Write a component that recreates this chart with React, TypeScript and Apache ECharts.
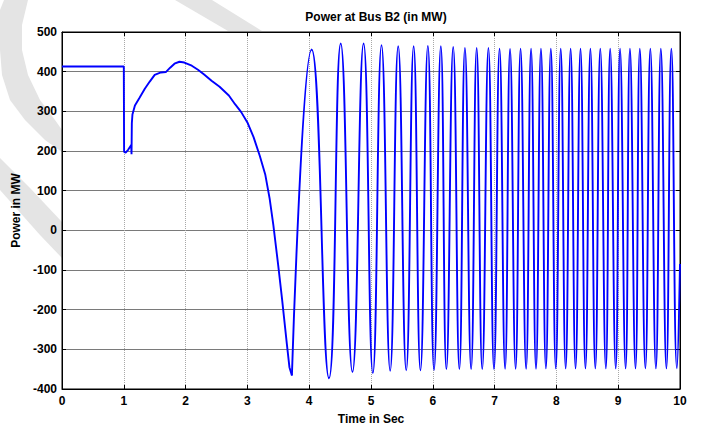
import React, { useEffect, useRef } from "react";
import * as echarts from "echarts";

// Pre-oscillation part (step drop at fault, slow swing)
const timeA = [0, 1.0, 1.005, 1.03, 1.07, 1.12, 1.125, 1.13, 1.14, 1.18, 1.25, 1.34, 1.42, 1.5, 1.6, 1.68, 1.75, 1.82, 1.9, 1.98, 2.1, 2.2, 2.3, 2.42, 2.55, 2.7, 2.8, 2.9, 3.0, 3.1, 3.2, 3.29, 3.36, 3.42, 3.5, 3.56, 3.64, 3.68, 3.72];
const powerA = [413, 413, 198, 196, 203, 215, 192, 270, 292, 315, 333, 357, 375, 392, 398, 399, 410, 420, 425, 423, 415, 405, 393, 377, 362, 340, 318, 298, 272, 235, 188, 140, 80, 13, -90, -172, -289, -345, -366];

// Oscillation part: successive extremes (trough, peak, ...)
const timeB = [
  3.72, 4.04, 4.32, 4.51, 4.70, 4.88, 5.03, 5.17, 5.31, 5.44,
  5.57, 5.69, 5.80, 5.92, 6.02, 6.13, 6.22, 6.33, 6.43, 6.52,
  6.62, 6.71, 6.80, 6.90, 6.99, 7.08, 7.17, 7.25, 7.34, 7.42,
  7.51, 7.59, 7.67, 7.75, 7.83, 7.91, 7.99, 8.07, 8.15, 8.23,
  8.31, 8.39, 8.47, 8.55, 8.63, 8.71, 8.80, 8.87, 8.96, 9.03,
  9.12, 9.19, 9.28, 9.35, 9.44, 9.52, 9.61, 9.69, 9.78, 9.86,
  9.95, 10.0,
];
const powerB = [
  -366, 456, -373, 471, -357, 471, -360, 467, -354, 464,
  -353, 464, -353, 465, -352, 464, -350, 462, -350, 460,
  -350, 460, -350, 460, -350, 458, -349, 457, -349, 458,
  -349, 458, -349, 458, -348, 458, -348, 458, -348, 458,
  -348, 458, -348, 458, -348, 458, -348, 458, -348, 458,
  -348, 458, -348, 458, -348, 458, -348, 458, -348, 458,
  -348, -85,
];

const xTicks = [0, 10, 1];
const yTicks = [-400, 500, 100];

const FONT = "Liberation Sans, Arial, sans-serif";
const WM = "#e4e4e4";

export default function App() {
  const ref = useRef<HTMLDivElement>(null);
  useEffect(() => {
    if (!ref.current) return;
    const chart = echarts.init(ref.current, null, { renderer: "svg" });
    const dataA = timeA.map((t, i) => [t, powerA[i]]);
    const dataB = timeB.map((t, i) => [t, powerB[i]]);
    const labelStyle = { color: "#000", fontFamily: FONT, fontWeight: "bold" as const, fontSize: 12 };
    chart.setOption({
      animation: false,
      backgroundColor: "#fff",
      graphic: [
        {
          type: "polygon", z: -10, silent: true,
          shape: { points: [[4, 0], [28, 0], [22, 25], [22, 50], [28, 75], [40, 100], [55, 120], [62, 130], [62, 152], [45, 140], [25, 120], [10, 100], [2, 75], [0, 50], [0, 10]] },
          style: { fill: WM },
        },
        {
          type: "polygon", z: -10, silent: true,
          shape: { points: [[0, 158], [0, 190], [40, 235], [62, 258], [62, 222], [30, 188]] },
          style: { fill: WM },
        },
        {
          type: "polygon", z: -10, silent: true,
          shape: { points: [[175, 0], [212, 0], [262, 31], [228, 31]] },
          style: { fill: WM },
        },
      ],
      title: {
        text: "Power at Bus B2 (in MW)",
        left: 371,
        textAlign: "center",
        top: 6,
        textStyle: { ...labelStyle, fontSize: 12 },
      },
      grid: {
        left: 62, right: 26, top: 32, bottom: 38,
        outerBoundsMode: "none", containLabel: false,
        show: true, borderColor: "#000", borderWidth: 1, backgroundColor: "#fff",
      },
      xAxis: [
        {
          type: "value", min: xTicks[0], max: xTicks[1], interval: xTicks[2],
          name: "Time in Sec", nameLocation: "middle", nameGap: 24,
          nameTextStyle: labelStyle,
          axisLine: { show: true, onZero: false, lineStyle: { color: "#000", width: 1 } },
          axisTick: { show: true, inside: true, length: 4, lineStyle: { color: "#000" } },
          axisLabel: { ...labelStyle, margin: 6 },
          splitLine: { show: true, lineStyle: { color: "#a8a8a8", type: "dotted", width: 1 } },
        },
        {
          type: "value", position: "top", min: xTicks[0], max: xTicks[1], interval: xTicks[2],
          axisLine: { show: true, onZero: false, lineStyle: { color: "#000" } },
          axisTick: { show: true, inside: true, length: 4, lineStyle: { color: "#000" } },
          axisLabel: { show: false }, splitLine: { show: false },
        },
      ],
      yAxis: [
        {
          type: "value", min: yTicks[0], max: yTicks[1], interval: yTicks[2],
          name: "Power in MW", nameLocation: "middle", nameGap: 38,
          nameTextStyle: labelStyle,
          axisLine: { show: true, onZero: false, lineStyle: { color: "#000", width: 1 } },
          axisTick: { show: true, inside: true, length: 4, lineStyle: { color: "#000" } },
          axisLabel: { ...labelStyle, margin: 5 },
          splitLine: { show: true, lineStyle: { color: "#7a7a7a", type: "solid", width: 1 } },
        },
        {
          type: "value", position: "right", min: yTicks[0], max: yTicks[1], interval: yTicks[2],
          axisLine: { show: true, onZero: false, lineStyle: { color: "#000" } },
          axisTick: { show: true, inside: true, length: 4, lineStyle: { color: "#000" } },
          axisLabel: { show: false }, splitLine: { show: false },
        },
      ],
      series: [
        {
          type: "line", data: dataA, showSymbol: false, smooth: false,
          lineStyle: { color: "#0000ff", width: 1.9 }, xAxisIndex: 0, yAxisIndex: 0,
        },
        {
          type: "line", data: dataB, showSymbol: false, smooth: 0.5,
          lineStyle: { color: "#0000ff", width: 1.9 }, xAxisIndex: 0, yAxisIndex: 0,
        },
      ],
    });
    return () => chart.dispose();
  }, []);
  return <div ref={ref} style={{ width: 706, height: 427, position: "absolute", left: 0, top: 0 }} />;
}
